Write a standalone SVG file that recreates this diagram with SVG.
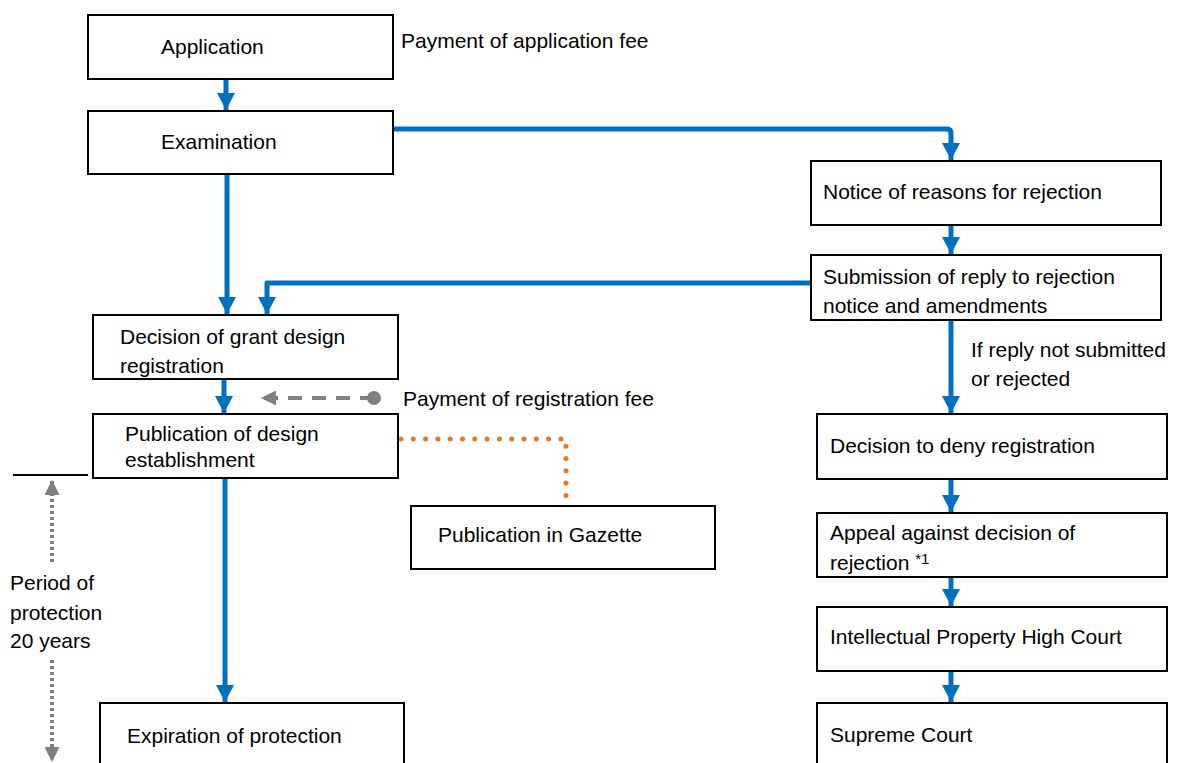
<svg xmlns="http://www.w3.org/2000/svg" width="1179" height="763" viewBox="0 0 1179 763">
<style>
.box{fill:#fff;stroke:#000;stroke-width:2}
.t{font-family:"Liberation Sans",Arial,sans-serif;font-size:21px;fill:#000}
.blue{fill:none;stroke:#0070C0;stroke-width:5;stroke-linejoin:round}
.gdash{fill:none;stroke:#808080;stroke-width:4;stroke-dasharray:14 10}
.gdot{fill:none;stroke:#808080;stroke-width:4;stroke-dasharray:3 3}
.odot{fill:none;stroke:#E87722;stroke-width:5;stroke-linecap:round;stroke-dasharray:0 12.3}
</style>
<defs>
<marker id="ab" markerUnits="userSpaceOnUse" markerWidth="18" markerHeight="18" refX="17" refY="9" orient="auto" viewBox="0 0 18 18">
<path d="M0,0 L17,9 L0,18 Z" fill="#0070C0"/>
</marker>
<marker id="ag" markerUnits="userSpaceOnUse" markerWidth="15" markerHeight="15" refX="14" refY="7.5" orient="auto" viewBox="0 0 15 15">
<path d="M0,0 L15,7.5 L0,15 Z" fill="#808080"/>
</marker>
</defs>
<rect width="1179" height="763" fill="#fff"/>
<g id="connectors">
<path class="blue" d="M226,79 V110" marker-end="url(#ab)"/>
<path class="blue" d="M393,129 H947 Q951,129 951,133 V160" marker-end="url(#ab)"/>
<path class="blue" d="M227,174 V314" marker-end="url(#ab)"/>
<path class="blue" d="M951,225 V254" marker-end="url(#ab)"/>
<path class="blue" d="M811,283 H267 V314" marker-end="url(#ab)"/>
<path class="blue" d="M224,379 V413" marker-end="url(#ab)"/>
<path class="blue" d="M951,320 V413" marker-end="url(#ab)"/>
<path class="blue" d="M225,478 V702" marker-end="url(#ab)"/>
<path class="blue" d="M951,479 V512" marker-end="url(#ab)"/>
<path class="blue" d="M951,577 V606" marker-end="url(#ab)"/>
<path class="blue" d="M951,671 V702" marker-end="url(#ab)"/>
<path class="gdash" d="M374,398 H262" marker-end="url(#ag)"/>
<circle cx="374" cy="398" r="7" fill="#808080"/>
<path class="odot" d="M401,439 H566 V498"/>
<path d="M13,475 H88" stroke="#000" stroke-width="2"/>
<path class="gdot" d="M52,562 V481" marker-end="url(#ag)"/>
<path class="gdot" d="M52,660 V761" marker-end="url(#ag)"/>
</g>
<g id="n-application"><rect class="box" x="88" y="15" width="305" height="64"/><text class="t" x="161" y="54">Application</text></g>
<g id="n-fee1"><text class="t" x="401" y="48">Payment of application fee</text></g>
<g id="n-exam"><rect class="box" x="88" y="111" width="305" height="63"/><text class="t" x="161" y="149">Examination</text></g>
<g id="n-notice"><rect class="box" x="811" y="161" width="350" height="64"/><text class="t" x="823" y="199">Notice of reasons for rejection</text></g>
<g id="n-submission"><rect class="box" x="811" y="255" width="350" height="65"/><text class="t" x="823" y="284">Submission of reply to rejection</text><text class="t" x="823" y="313">notice and amendments</text></g>
<g id="n-ifreply"><text class="t" x="971" y="357">If reply not submitted</text><text class="t" x="971" y="386">or rejected</text></g>
<g id="n-decision"><rect class="box" x="93" y="315" width="305" height="64"/><text class="t" x="120" y="344">Decision of grant design</text><text class="t" x="120" y="373">registration</text></g>
<g id="n-fee2"><text class="t" x="403" y="406">Payment of registration fee</text></g>
<g id="n-publication"><rect class="box" x="93" y="414" width="305" height="64"/><text class="t" x="125" y="441">Publication of design</text><text class="t" x="125" y="467">establishment</text></g>
<g id="n-gazette"><rect class="box" x="411" y="506" width="304" height="63"/><text class="t" x="438" y="542">Publication in Gazette</text></g>
<g id="n-period"><text class="t" x="10" y="590">Period of</text><text class="t" x="10" y="620">protection</text><text class="t" x="10" y="648">20 years</text></g>
<g id="n-expiration"><rect class="box" x="100" y="703" width="304" height="70"/><text class="t" x="127" y="743">Expiration of protection</text></g>
<g id="n-deny"><rect class="box" x="817" y="414" width="350" height="65"/><text class="t" x="830" y="453">Decision to deny registration</text></g>
<g id="n-appeal"><rect class="box" x="817" y="513" width="350" height="64"/><text class="t" x="830" y="570">rejection <tspan font-size="15" dy="-6">*1</tspan></text><text class="t" x="830" y="540">Appeal against decision of</text></g>
<g id="n-ipcourt"><rect class="box" x="817" y="607" width="350" height="64"/><text class="t" x="830" y="644">Intellectual Property High Court</text></g>
<g id="n-supreme"><rect class="box" x="817" y="703" width="350" height="70"/><text class="t" x="830" y="742">Supreme Court</text></g>
</svg>
